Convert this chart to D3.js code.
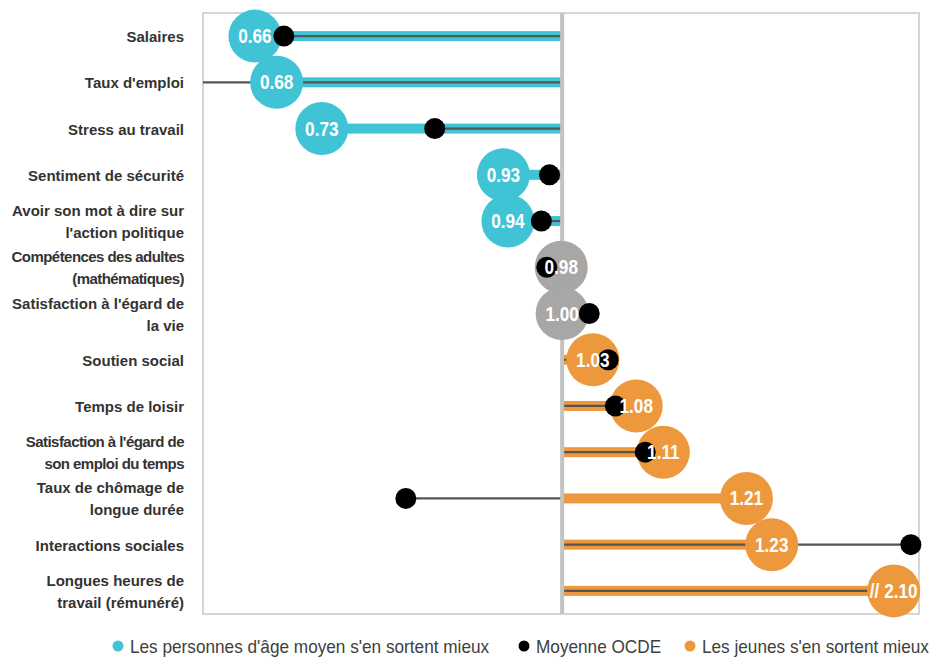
<!DOCTYPE html>
<html>
  <head>
    <meta charset="utf-8" />
    <title>Jeunes et personnes d'âge moyen</title>
    <script src="https://d3js.org/d3.v7.min.js"></script>
    <style>
      body {
        margin: 0;
        background: #fff;
      }
      .cat {
        font-family: "Liberation Sans", Arial, sans-serif;
        font-weight: bold;
        font-size: 15px;
        fill: #333;
      }
      .val {
        font-family: "Liberation Sans", Arial, sans-serif;
        font-weight: bold;
        font-size: 20px;
        fill: #fff;
      }
      .legend text {
        font-family: "Liberation Sans", Arial, sans-serif;
        font-size: 19px;
        fill: #404040;
      }
    </style>
  </head>
  <body>

    <svg id="chart"></svg>

    <script>

      // rows, top to bottom (label lines)
      var categories = [
        ["Salaires"],
        ["Taux d'emploi"],
        ["Stress au travail"],
        ["Sentiment de sécurité"],
        ["Avoir son mot à dire sur", "l'action politique"],
        ["Compétences des adultes", "(mathématiques)"],
        ["Satisfaction à l'égard de", "la vie"],
        ["Soutien social"],
        ["Temps de loisir"],
        ["Satisfaction à l'égard de", "son emploi du temps"],
        ["Taux de chômage de", "longue durée"],
        ["Interactions sociales"],
        ["Longues heures de", "travail (rémunéré)"]
      ];

      // ratio, position
      var values = [0.660, 0.684, 0.734, 0.935, 0.940, 0.999, 1.000, 1.034, 1.082, 1.112, 1.204, 1.232, 2.10];
      var valueLabels = ["0.66", "0.68", "0.73", "0.93", "0.94", "0.98", "1.00", "1.03", "1.08", "1.11", "1.21", "1.23", "// 2.10"];
      // OECD average
      var oecd = [0.692, 0.55, 0.859, 0.986, 0.977, 0.983, 1.030, 1.051, 1.059, 1.092, 0.827, 1.386, 1.5];
      // mid = middle-aged better off, ns = no clear gap, young = young better off
      var groups = ["mid", "mid", "mid", "mid", "mid", "ns", "ns", "young", "young", "young", "young", "young", "young"];

      var axisBreak = 1.367; // values past the frame are drawn here

      var legendItems = [
        { key: "mid", label: "Les personnes d'âge moyen s'en sortent mieux" },
        { key: "oecd", label: "Moyenne OCDE" },
        { key: "young", label: "Les jeunes s'en sortent mieux" }
      ];

      var colors = {
        mid: "#41c3d6",
        ns: "#a9a6a6",
        young: "#ee983d",
        oecd: "#000000"
      };

      var width = 936;
      var height = 658;
      var plot = { left: 203, right: 919, top: 13, bottom: 614 };
      var narrow = 0.86; // no narrow font installed, squeeze horizontally
      var tightRows = [5, 9]; // labels set tighter in the original

      var svg = d3.select("#chart")
        .attr("width", width)
        .attr("height", height);

      var x = d3.scaleLinear()
        .domain([0.6025, 1.395])
        .range([plot.left, plot.right]);

      var y = d3.scaleBand()
        .domain(d3.range(categories.length))
        .range([plot.top, plot.bottom]);

      function cy(i) {
        return y(i) + y.bandwidth() / 2;
      }

      function xv(v) {
        return x(Math.min(v, axisBreak));
      }

      function xClamp(v) {
        return Math.max(plot.left, Math.min(plot.right, x(v)));
      }

      var rows = categories.map(function(c, i) {
        return {
          lines: c,
          value: values[i],
          label: valueLabels[i],
          oecd: oecd[i],
          group: groups[i],
          i: i
        };
      });

      // frame
      svg.append("rect")
        .attr("x", plot.left)
        .attr("y", plot.top)
        .attr("width", plot.right - plot.left)
        .attr("height", plot.bottom - plot.top)
        .attr("fill", "none")
        .attr("stroke", "#d6d6d6")
        .attr("stroke-width", 2);

      // coloured bars from 1 to the value
      svg.append("g").selectAll("rect")
        .data(rows.filter(function(d) { return d.group !== "ns"; }))
        .join("rect")
        .attr("x", function(d) { return Math.min(x(1), xv(d.value)); })
        .attr("width", function(d) { return Math.abs(xv(d.value) - x(1)); })
        .attr("y", function(d) { return cy(d.i) - 5; })
        .attr("height", 10)
        .attr("fill", function(d) { return colors[d.group]; });

      // dark line from 1 to the OECD average
      svg.append("g").selectAll("line")
        .data(rows)
        .join("line")
        .attr("x1", x(1))
        .attr("x2", function(d) { return xClamp(d.oecd); })
        .attr("y1", function(d) { return cy(d.i); })
        .attr("y2", function(d) { return cy(d.i); })
        .attr("stroke", "#555")
        .attr("stroke-width", 2.2);

      // centre line at 1
      svg.append("line")
        .attr("x1", x(1))
        .attr("x2", x(1))
        .attr("y1", plot.top)
        .attr("y2", plot.bottom)
        .attr("stroke", "#c3c3c3")
        .attr("stroke-width", 4);

      // value circles
      svg.append("g").selectAll("circle")
        .data(rows)
        .join("circle")
        .attr("cx", function(d) { return xv(d.value); })
        .attr("cy", function(d) { return cy(d.i); })
        .attr("r", 26.5)
        .attr("fill", function(d) { return colors[d.group]; });

      // OECD dots (only those inside the frame)
      svg.append("g").selectAll("circle")
        .data(rows.filter(function(d) { return d.oecd >= x.domain()[0] && d.oecd <= x.domain()[1]; }))
        .join("circle")
        .attr("cx", function(d) { return x(d.oecd); })
        .attr("cy", function(d) { return cy(d.i); })
        .attr("r", 10.5)
        .attr("fill", colors.oecd);

      // value labels
      svg.append("g").selectAll("text")
        .data(rows)
        .join("text")
        .attr("class", "val")
        .attr("transform", function(d) {
          return "translate(" + xv(d.value) + "," + (cy(d.i) + 7) + ") scale(" + narrow + ",1)";
        })
        .attr("text-anchor", "middle")
        .text(function(d) { return d.label; });

      // category labels
      var cats = svg.append("g").selectAll("text")
        .data(rows)
        .join("text")
        .attr("class", "cat")
        .attr("text-anchor", "end")
        .attr("letter-spacing", function(d) { return tightRows.indexOf(d.i) >= 0 ? "-0.55px" : null; })
        .attr("y", function(d) { return cy(d.i) + 6 - (d.lines.length - 1) * 11; });

      cats.selectAll("tspan")
        .data(function(d) { return d.lines; })
        .join("tspan")
        .attr("x", 184)
        .attr("dy", function(l, j) { return j === 0 ? 0 : 22; })
        .text(function(l) { return l; });

      // legend (kept just inside the bottom edge)
      var legendX = [118, 524, 690];
      var legend = svg.append("g").attr("class", "legend");
      var li = legend.selectAll("g")
        .data(legendItems)
        .join("g")
        .attr("transform", function(d, i) { return "translate(" + legendX[i] + ",646)"; });
      li.append("circle")
        .attr("r", 5.5)
        .attr("fill", function(d) { return colors[d.key]; });
      li.append("text")
        .attr("transform", "translate(12,7) scale(" + (narrow * 20 / 19) + ",1)")
        .text(function(d) { return d.label; });

    </script>
  </body>
</html>
